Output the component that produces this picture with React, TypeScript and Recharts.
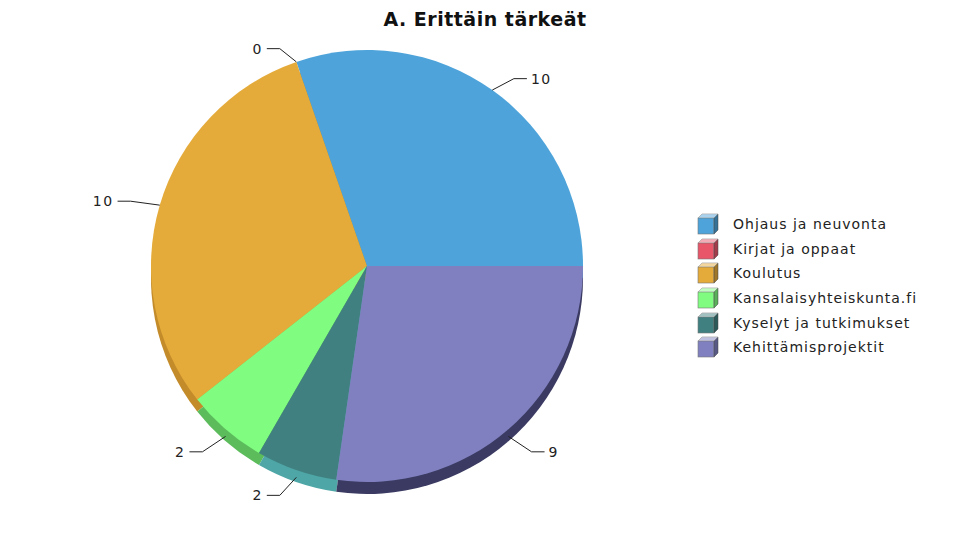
import React from 'react';
import { PieChart, Pie, Cell, Legend } from 'recharts';

const categories = [
  'Ohjaus ja neuvonta',
  'Kirjat ja oppaat',
  'Koulutus',
  'Kansalaisyhteiskunta.fi',
  'Kyselyt ja tutkimukset',
  'Kehittämisprojektit',
];
const values = [10, 0, 10, 2, 2, 9];
const colors = ['#4ea4da', '#e8566a', '#e5ab3a', '#80fc80', '#408080', '#8080c0'];
const sideColors = ['#3c84b2', '#b84050', '#c38b2a', '#5cbc5c', '#4ea6a6', '#3a3a62'];

const data = categories.map((name, i) => ({ name, value: values[i] }));

const CX = 367;
const CY = 266;
const R = 216;
const DEPTH = 12;
const RAD = Math.PI / 180;

const renderLabel = (props: any) => {
  const { cx, cy, midAngle, outerRadius, value } = props;
  const c = Math.cos(-midAngle * RAD);
  const s = Math.sin(-midAngle * RAD);
  const lower = s > 0.2;
  const drop = lower ? DEPTH : 0;
  const sign = c >= 0 ? 1 : -1;
  const x0 = cx + outerRadius * c;
  const y0 = cy + outerRadius * s + (lower ? DEPTH * 0.6 : 0);
  const x1 = cx + (outerRadius + 20) * c + sign * 10;
  const y1 = cy + (outerRadius + 14) * s + drop;
  const x2 = x1 + sign * 13;
  return (
    <g>
      <path d={`M${x0},${y0}L${x1},${y1}L${x2},${y1}`} stroke="#222" strokeWidth={1} fill="none" />
      <text
        x={x2 + sign * 4}
        y={y1}
        dy={5}
        textAnchor={sign > 0 ? 'start' : 'end'}
        fontSize={14}
        letterSpacing={1.5}
        fill="#222"
        fontFamily="DejaVu Sans, sans-serif"
      >
        {value}
      </text>
    </g>
  );
};

const Cube: React.FC<{ color: string }> = ({ color }) => (
  <svg width={22} height={22} style={{ display: 'block' }}>
    <path d="M1,5 L5,1 L21,1 L17,5 Z" fill={color} opacity={0.75} stroke="#666" strokeWidth={0.6} />
    <rect x={1} y={5} width={16} height={16} fill={color} stroke="#777" strokeWidth={0.6} />
    <path d="M17,5 L21,1 L21,17 L17,21 Z" fill={color} stroke="#666" strokeWidth={0.6} />
    <path d="M17,5 L21,1 L21,17 L17,21 Z" fill="#000" opacity={0.3} />
    <path d="M1,5 L5,1 L21,1 L17,5 Z" fill="#fff" opacity={0.35} />
  </svg>
);

const renderLegend = () => (
  <div style={{ fontFamily: 'DejaVu Sans, sans-serif', fontSize: 14, color: '#222', letterSpacing: 1 }}>
    {categories.map((name, i) => (
      <div key={name} style={{ display: 'flex', alignItems: 'center', height: 24.6 }}>
        <Cube color={colors[i]} />
        <span style={{ marginLeft: 14 }}>{name}</span>
      </div>
    ))}
  </div>
);

const App: React.FC = () => {
  return (
    <div style={{ position: 'fixed', left: 0, top: 0, width: 960, height: 540, background: '#fff' }}>
      <div
        style={{
          position: 'absolute',
          top: 8,
          width: 960,
          textAlign: 'center',
          fontFamily: 'DejaVu Sans, sans-serif',
          fontWeight: 'bold',
          fontSize: 19,
          letterSpacing: 0.5,
          color: '#111',
          paddingLeft: 10,
          boxSizing: 'border-box',
        }}
      >
        A. Erittäin tärkeät
      </div>
      <PieChart width={960} height={540} margin={{ top: 0, right: 0, bottom: 0, left: 0 }}>
        <Pie
          data={data}
          dataKey="value"
          nameKey="name"
          cx={CX}
          cy={CY + DEPTH}
          outerRadius={R}
          startAngle={0}
          endAngle={360}
          stroke="none"
          isAnimationActive={false}
          legendType="none"
        >
          {data.map((d, i) => (
            <Cell key={d.name} fill={sideColors[i]} />
          ))}
        </Pie>
        <Pie
          data={data}
          dataKey="value"
          nameKey="name"
          cx={CX}
          cy={CY}
          outerRadius={R}
          startAngle={0}
          endAngle={360}
          stroke="none"
          isAnimationActive={false}
          label={renderLabel}
          labelLine={false}
        >
          {data.map((d, i) => (
            <Cell key={d.name} fill={colors[i]} />
          ))}
        </Pie>
        <Legend
          layout="vertical"
          align="right"
          verticalAlign="top"
          content={renderLegend}
          wrapperStyle={{ left: 697, top: 212, width: 240 }}
        />
      </PieChart>
    </div>
  );
};

export default App;
